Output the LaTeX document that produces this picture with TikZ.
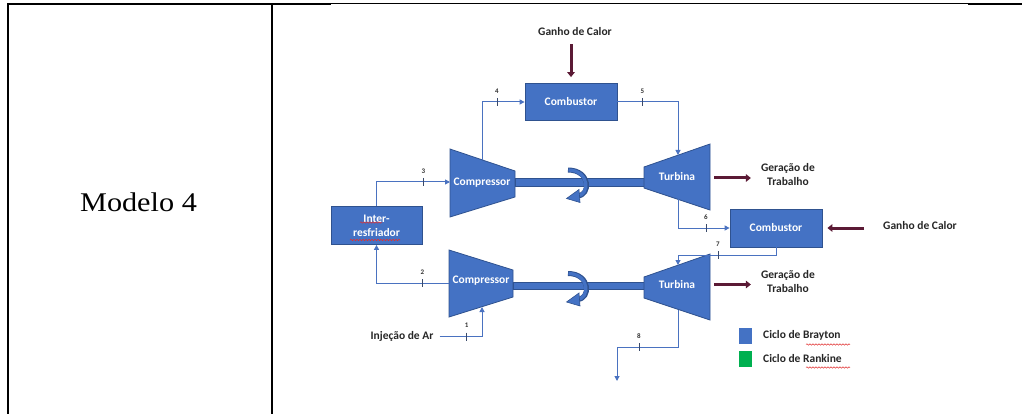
\documentclass[tikz,border=0pt]{standalone}
\usepackage{fontspec}
\setmainfont{Liberation Serif}
\newfontfamily\timesf{Liberation Serif}
\newfontfamily\calib{Carlito}[BoldFont={Carlito Bold}]
\usetikzlibrary{arrows.meta,decorations.pathmorphing}

\definecolor{boxblue}{HTML}{4472C4}
\definecolor{boxedge}{HTML}{2F528F}
\definecolor{linkblue}{HTML}{4A72C0}
\definecolor{heatred}{HTML}{5B1A35}
\definecolor{legendgreen}{HTML}{00B050}
\definecolor{spellred}{HTML}{E03030}
\definecolor{tickgray}{HTML}{3A4A6A}

\tikzset{
  unit/.style={draw=boxedge, fill=boxblue, line width=0.8pt},
  box/.style={unit, minimum width=92pt, minimum height=38pt, inner sep=0pt,
    text=white, align=center, font=\calib\bfseries\fontsize{11.5}{14}\selectfont},
  inlabel/.style={text=white, font=\calib\bfseries\fontsize{11.5}{14}\selectfont},
  flow/.style={draw=linkblue, line width=1pt},
  flowarrow/.style={flow, -{Triangle[length=5pt,width=5pt]}},
  heat/.style={draw=heatred, line width=3pt, -{Triangle[length=5pt,width=7.5pt]}},
  tag/.style={font=\calib\bfseries\fontsize{7}{8}\selectfont, text=black!80, inner sep=0pt},
  tickline/.style={draw=tickgray, line width=0.8pt},
  lbl/.style={font=\calib\bfseries\fontsize{11.5}{14}\selectfont, text=black!85, align=center, inner sep=2pt},
  spell/.style={draw=spellred, line width=0.5pt, decorate,
    decoration={snake, amplitude=0.7pt, segment length=3pt}},
  frame/.style={draw=black, line cap=rect},
  spin/.pic={
    \draw[boxedge, line width=5pt] (568,170) .. controls (591,170) and (591,196) .. (577,196);
    \draw[boxblue, line width=3.2pt] (568.5,170) .. controls (590,170.5) and (590,195.5) .. (577,196);
    \filldraw[fill=boxblue, draw=boxedge, line width=0.6pt] (579,189.5) -- (566.5,198.5) -- (580,202.5) -- cycle;
  }
}

\begin{document}
\begin{tikzpicture}[x=1pt, y=-1pt]
\useasboundingbox (0,0) rectangle (1022,414);

% table frame
\draw[frame, line width=2.2pt] (8,4) -- (330,4);
\draw[frame, line width=1.1pt] (330,3.4) -- (969,3.4);
\draw[frame, line width=2.2pt] (969,4) -- (1022,4);
\draw[frame, line width=2.2pt] (8,4) -- (8,414);
\draw[frame, line width=2.4pt] (272,4) -- (272,414);

\node[anchor=base, font=\timesf\fontsize{27}{30}\selectfont] (modelo) at (138.5,211.7) {\scalebox{1.12}[1]{Modelo 4}};

% shafts
\draw[unit] (515,178) rectangle (644,186);
\draw[unit] (513,282) rectangle (644,289);

% compressors
\draw[unit] (450,149) -- (515,171) -- (515,197) -- (450,217) -- cycle;
\draw[unit] (449,250) -- (513,270) -- (513,297) -- (449,317) -- cycle;
\node[inlabel] (compA) at (482,183) {Compressor};
\node[inlabel] (compB) at (481,281) {Compressor};

% turbines
\draw[unit] (644,167) -- (710,144) -- (710,210) -- (644,188) -- cycle;
\draw[unit] (644,277) -- (710,254) -- (710,320) -- (644,298) -- cycle;
\node[inlabel] (turbA) at (677,177) {Turbina};
\node[inlabel] (turbB) at (677,285) {Turbina};

% rotation marks
\pic at (0,0) {spin};
\pic at (0,103.5) {spin};

% boxes
\node[box, minimum height=37pt] (comb1) at (571,102) {Combustor};
\node[box] (comb2) at (776,228) {Combustor};
\node[box, minimum width=91pt] (ic) at (376.5,225.5) {Inter-\\resfriador};
\draw[spell] (360,222.5) -- (382,222.5);
\draw[spell] (350,240) -- (400,240);

% connection points on the machines
\coordinate (c1) at (482,307);
\coordinate (c2) at (449,283);
\coordinate (c3) at (450,182);
\coordinate (c4) at (482,160);
\coordinate (t5) at (678,155);
\coordinate (t6) at (678,199.5);
\coordinate (k7) at (776,255);
\coordinate (t7) at (678,265);
\coordinate (t8) at (678,309.5);
\coordinate (k8) at (617,347);
\coordinate (out8) at (617,381);
\coordinate (trA) at (710,178);
\coordinate (trB) at (710,284.5);

% external labels
\node[lbl] (ganho1) at (575,32) {Ganho de Calor};
\node[lbl] (ganho2) at (920,226) {Ganho de Calor};
\node[lbl] (genA) at (788,175) {Geração de\\Trabalho};
\node[lbl] (genB) at (788,281.5) {Geração de\\Trabalho};
\node[lbl, inner xsep=6pt] (inj) at (402,336) {Injeção de Ar};

% working fluid path
\draw[flowarrow] (inj.east) -| (c1);
\draw[flowarrow] (c2) -| (ic.south);
\draw[flowarrow] (ic.north) |- (c3);
\draw[flowarrow] (c4) |- (comb1.west);
\draw[flowarrow] (comb1.east) -| (t5);
\draw[flowarrow] (t6) |- (comb2.west);
\draw[flowarrow] (comb2.south) -- (k7) -| (t7);
\draw[flowarrow] (t8) |- (k8) -- (out8);

% heat and work
\draw[heat, shorten <=6pt, shorten >=6pt] (ganho1.south -| comb1.north) -- (comb1.north);
\draw[heat, shorten <=17pt, shorten >=5pt] (ganho2.west |- comb2.east) -- (comb2.east);
\draw[heat, shorten <=4pt, shorten >=8pt] (trA) -- (trA -| genA.west);
\draw[heat, shorten <=4pt, shorten >=8pt] (trB) -- (trB -| genB.west);

% state points
\foreach \x/\y/\n in {466.7/336.5/1, 422.5/283/2, 423.5/182/3, 497/102/4, 642.5/102/5, 706/228/6, 718/255/7, 639/347/8}{
  \draw[tickline] (\x,\y-4) -- (\x,\y+4);
  \node[tag] (s\n) at (\x,\y-11) {\n};
}

% legend
\node[fill=boxblue, minimum width=13pt, minimum height=16pt, inner sep=0pt] (legB) at (745,336) {};
\node[fill=legendgreen, minimum width=13pt, minimum height=16pt, inner sep=0pt] (legR) at (745,359) {};
\node[lbl, anchor=west, inner xsep=0pt] (txtB) at (763,335) {Ciclo de Brayton};
\node[lbl, anchor=west, inner xsep=0pt] (txtR) at (763,358.5) {Ciclo de Rankine};
\draw[spell] (806,344.5) -- (850,344.5);
\draw[spell] (806,367.5) -- (850,367.5);
\end{tikzpicture}
\end{document}
